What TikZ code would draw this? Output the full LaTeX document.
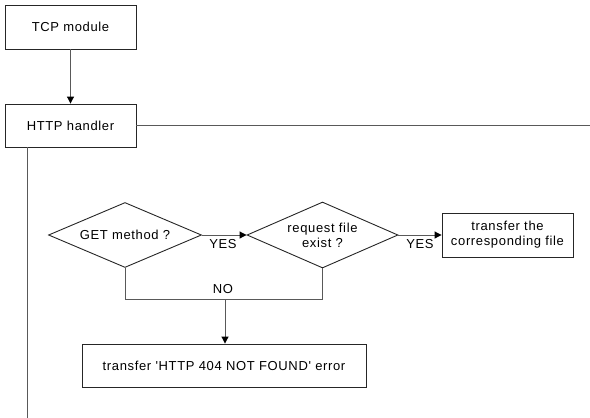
\documentclass[tikz,border=0pt]{standalone}
\usepackage{fontspec}
\newfontfamily\chartfont[LetterSpace=5]{Liberation Sans}
\usetikzlibrary{shapes.geometric,arrows.meta}
\begin{document}
\begin{tikzpicture}[x=1pt,y=-1pt,
  font=\chartfont\fontsize{13}{15}\selectfont,
  box/.style={draw=black!85,line width=0.9pt,rectangle,inner sep=0pt,align=center},
  decision/.style={draw=black!85,line width=0.9pt,diamond,aspect=2.35,inner sep=0pt,
    minimum width=153pt,minimum height=65pt,align=center},
  link/.style={draw=black!65,line width=1pt},
  arrow/.style={link,-{Triangle[length=7pt,width=7pt,color=black]}},
  lbl/.style={inner sep=0pt}]
\useasboundingbox (0,0) rectangle (590,418);
% processing blocks
\node[box,minimum width=131pt,minimum height=44pt] (tcp) at (70.5,27) {TCP module};
\node[box,minimum width=131pt,minimum height=43pt] (http) at (70.5,125.5) {HTTP handler};
\node[decision] (get) at (125,235) {GET method ?};
\node[decision,minimum width=151pt,minimum height=66pt] (req) at (322.5,235) {request file\\exist ?};
\node[box,minimum width=131pt,minimum height=44pt] (send) at (507.5,235) {transfer the\\corresponding file};
\node[box,minimum width=284pt,minimum height=43pt] (err) at (224,365.5) {transfer 'HTTP 404 NOT FOUND' error};
% free ends and junctions
\coordinate (httpright) at (590,125.5);
\coordinate (httpdown) at (27.5,147);
\coordinate (bottomend) at (27.5,418);
\coordinate (nojoin) at (225,299);
% connectors
\draw[arrow] (tcp) -- (http);
\draw[link] (http.east) -- (httpright);
\draw[link] (httpdown) -- (bottomend);
\draw[arrow] (get.east) -- (req.west);
\draw[arrow] (req.east) -- (send.west);
\draw[link] (get.south) -- (get.south |- nojoin) -- (req.south |- nojoin) -- (req.south);
\draw[arrow] (nojoin) -- (nojoin |- err.north);
% branch labels
\node[lbl] (yes1) at (223,244) {YES};
\node[lbl] (yes2) at (420,244) {YES};
\node[lbl] (no) at (223,289) {NO};
\end{tikzpicture}
\end{document}
